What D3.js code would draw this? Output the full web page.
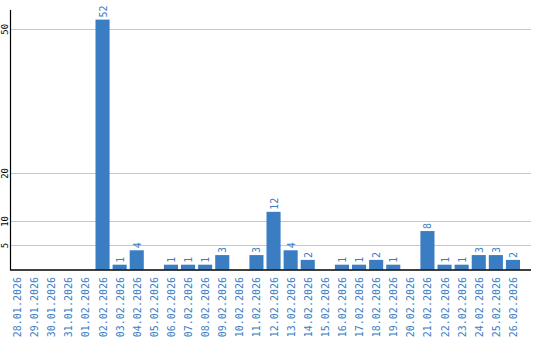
<!DOCTYPE html>
<html>
<head>
<meta charset="utf-8">
<script src="https://d3js.org/d3.v7.min.js"></script>
<style>
body { margin: 0; background: #fff; }
svg { display: block; }
</style>
</head>
<body>
<svg width="540" height="340"></svg>
<script>
var dates = ["28.01.2026","29.01.2026","30.01.2026","31.01.2026","01.02.2026","02.02.2026","03.02.2026",
  "04.02.2026","05.02.2026","06.02.2026","07.02.2026","08.02.2026","09.02.2026","10.02.2026","11.02.2026",
  "12.02.2026","13.02.2026","14.02.2026","15.02.2026","16.02.2026","17.02.2026","18.02.2026","19.02.2026",
  "20.02.2026","21.02.2026","22.02.2026","23.02.2026","24.02.2026","25.02.2026","26.02.2026"];
var counts = [0,0,0,0,0,52,1,4,0,1,1,1,3,0,3,12,4,2,0,1,1,2,1,0,8,1,1,3,3,2];
var yTicks = [5, 10, 20, 50];

var svg = d3.select("svg");
var blue = "#3a7dc2";
var font = "'DejaVu Sans Mono', monospace";

// band scale for the days, linear scale for counts
var x = d3.scaleBand().domain(dates).range([10, 520]).paddingInner(3/17).paddingOuter(0).align(0);
var y = d3.scaleLinear().domain([0, 54]).range([269.5, 10]);

// gridlines
svg.append("g").selectAll("line").data(yTicks).enter().append("line")
  .attr("x1", 10).attr("x2", 531)
  .attr("y1", function(d){ return Math.round(y(d)) + 0.5; })
  .attr("y2", function(d){ return Math.round(y(d)) + 0.5; })
  .attr("stroke", "#c8c8c8").attr("stroke-width", 1);

// y tick labels (rotated)
svg.append("g").selectAll("text").data(yTicks).enter().append("text")
  .attr("transform", function(d){ return "translate(8," + y(d) + ") rotate(-90)"; })
  .attr("text-anchor", "middle")
  .attr("font-family", font).attr("font-size", "9px").attr("fill", "#000")
  .text(function(d){ return d; });

// bars
svg.append("g").selectAll("rect").data(counts).enter().append("rect")
  .attr("x", function(d, i){ return x(dates[i]); })
  .attr("y", function(d){ return y(d); })
  .attr("width", x.bandwidth())
  .attr("height", function(d){ return y(0) - y(d); })
  .attr("fill", blue);

// value labels above bars (skip zeros)
var lbl = svg.append("g");
counts.forEach(function(d, i){
  if (d <= 0) return;
  lbl.append("text")
    .attr("transform", "translate(" + (x(dates[i]) + x.bandwidth() / 2 + 4) + "," + (y(d) - 2) + ") rotate(-90)")
    .attr("text-anchor", "start")
    .attr("font-family", font).attr("font-size", "10px").attr("fill", blue)
    .text(d);
});

// axis lines
svg.append("line").attr("x1", 10.5).attr("x2", 10.5).attr("y1", 10).attr("y2", 270)
  .attr("stroke", "#000").attr("stroke-width", 1.2);
svg.append("line").attr("x1", 10).attr("x2", 531).attr("y1", 270).attr("y2", 270)
  .attr("stroke", "#000").attr("stroke-width", 1.5);

// x labels
svg.append("g").selectAll("text").data(dates).enter().append("text")
  .attr("transform", function(d){ return "translate(" + (x(d) + x.bandwidth() / 2 + 4) + ",277) rotate(-90)"; })
  .attr("text-anchor", "end")
  .attr("font-family", font).attr("font-size", "10px").attr("fill", blue)
  .text(function(d){ return d; });
</script>
</body>
</html>
